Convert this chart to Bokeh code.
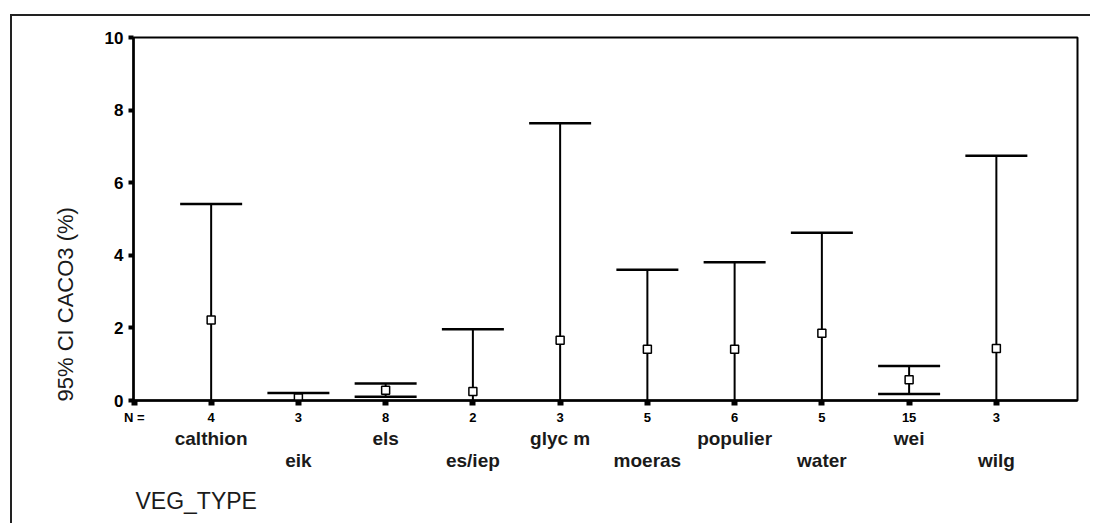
from bokeh.plotting import figure
from bokeh.models import Range1d, LinearAxis, FixedTicker, Title, ColumnDataSource
from bokeh.embed import file_html
from bokeh.resources import INLINE

# ---- data ----
categories = ["calthion", "eik", "els", "es/iep", "glyc m",
              "moeras", "populier", "water", "wei", "wilg"]
n_values = [4, 3, 8, 2, 3, 5, 6, 5, 15, 3]
means = [2.22, 0.07, 0.28, 0.25, 1.66, 1.41, 1.41, 1.85, 0.57, 1.43]
upper = [5.41, 0.21, 0.47, 1.96, 7.64, 3.60, 3.81, 4.62, 0.95, 6.74]
lower = [-0.97, -0.07, 0.10, -1.46, -4.32, -0.78, -0.99, -0.92, 0.18, -3.88]
y_ticks = [0, 2, 4, 6, 8, 10]

positions = list(range(len(categories)))
X_START, X_END = -0.89, 9.93
N_POS = X_START + 0.01

FONT = "Liberation Sans"
TXT = "#1a1a1a"

p = figure(width=1080, height=509, output_backend="svg", toolbar_location=None,
           x_range=Range1d(X_START, X_END), y_range=Range1d(0, 10),
           x_axis_location=None, y_axis_location=None,
           min_border_left=121, min_border_top=21, min_border_right=15,
           min_border_bottom=125)
p.styles = {"margin-left": "10px", "margin-top": "14px",
            "border-left": "2px solid #222", "border-top": "2px solid #222"}
for g in p.grid:
    g.visible = False
p.outline_line_color = "black"
p.outline_line_width = 2
p.background_fill_color = "white"
p.border_fill_color = "white"

# y axis
yaxis = LinearAxis(ticker=FixedTicker(ticks=y_ticks))
yaxis.major_label_text_font = FONT
yaxis.major_label_text_font_size = "17px"
yaxis.major_label_text_font_style = "bold"
yaxis.major_label_text_color = "black"
yaxis.major_tick_in = 0
yaxis.major_tick_out = 5
yaxis.major_tick_line_width = 4
yaxis.minor_tick_line_color = None
yaxis.axis_line_width = 2.5
yaxis.major_label_standoff = 5
p.add_layout(yaxis, "left")

ytitle = Title(text="95% CI CACO3 (%)", align="left", text_font=FONT,
               text_font_size="22px", text_font_style="normal", offset=-1,
               text_color=TXT)
if "standoff" in Title.properties():
    ytitle.standoff = 48
p.add_layout(ytitle, "left")

# x axis with N values
overrides_n = {N_POS: "N ="}
for i, n in zip(positions, n_values):
    overrides_n[i] = str(n)
ax_n = LinearAxis(ticker=FixedTicker(ticks=[N_POS] + positions),
                  major_label_overrides=overrides_n)
ax_n.axis_line_width = 2.5
ax_n.major_tick_in = 0
ax_n.major_tick_out = 5
ax_n.major_tick_line_width = 6
ax_n.minor_tick_line_color = None
ax_n.major_label_text_font = FONT
ax_n.major_label_text_font_size = "13px"
ax_n.major_label_text_font_style = "bold"
ax_n.major_label_text_color = "black"
ax_n.major_label_standoff = 4
p.add_layout(ax_n, "below")


def name_axis(idx, standoff):
    ax = LinearAxis(ticker=FixedTicker(ticks=idx),
                    major_label_overrides={i: categories[i] for i in idx})
    ax.axis_line_color = None
    ax.major_tick_line_color = None
    ax.minor_tick_line_color = None
    ax.major_tick_in = 0
    ax.major_tick_out = 0
    ax.major_label_text_font = FONT
    ax.major_label_text_font_size = "19px"
    ax.major_label_text_font_style = "bold"
    ax.major_label_text_color = TXT
    ax.major_label_standoff = standoff
    return ax


p.add_layout(name_axis(positions[0::2], 0), "below")
p.add_layout(name_axis(positions[1::2], -2), "below")

xtitle = Title(text="VEG_TYPE", align="left", text_font=FONT,
               text_font_size="23px", text_font_style="normal", offset=2,
               text_color=TXT)
if "standoff" in Title.properties():
    xtitle.standoff = 24
p.add_layout(xtitle, "below")

# error bars
src = ColumnDataSource(dict(x=positions, mean=means, upper=upper, lower=lower))
p.segment(x0="x", y0="lower", x1="x", y1="upper", source=src,
          line_color="black", line_width=2)
p.scatter(x="x", y="upper", marker="dash", size=62, line_width=2.5,
          line_color="black", source=src)
p.scatter(x="x", y="lower", marker="dash", size=62, line_width=2.5,
          line_color="black", source=src)
p.scatter(x="x", y="mean", marker="square", size=8, fill_color="white",
          line_color="black", line_width=1.5, source=src)

open("out.html", "w").write(file_html(p, INLINE))
